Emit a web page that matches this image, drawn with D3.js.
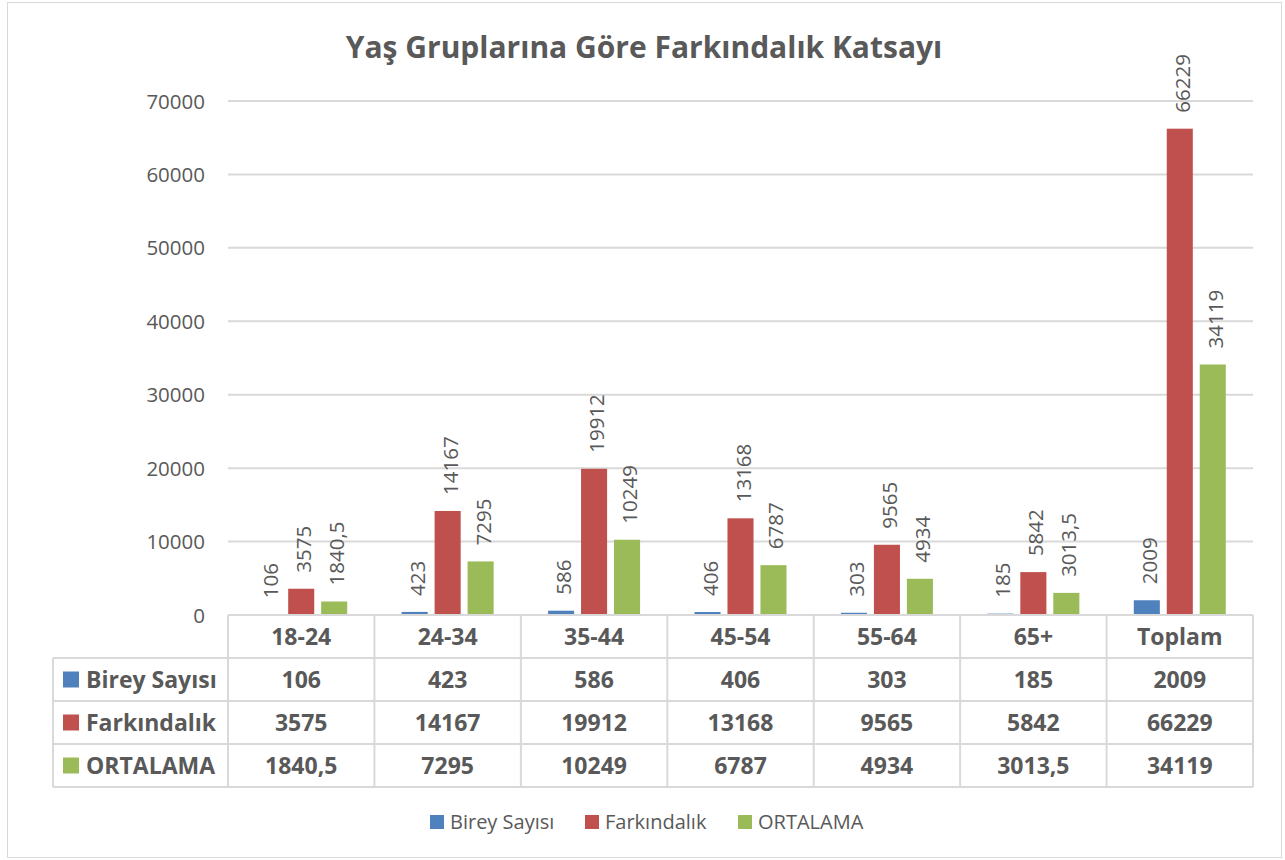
<!DOCTYPE html>
<html lang="tr">
<head>
<meta charset="UTF-8">
<style>
  body { margin: 0; background: #fff; }
  text { font-family: "Open Sans", sans-serif; fill: #595959; }
</style>
</head>
<body>
<div id="chart"></div>
<script src="https://cdn.jsdelivr.net/npm/d3@7/dist/d3.min.js"></script>
<script>
// data
var categories = ["18-24", "24-34", "35-44", "45-54", "55-64", "65+", "Toplam"];
var seriesNames = ["Birey Sayısı", "Farkındalık", "ORTALAMA"];
var bireySayisi = [106, 423, 586, 406, 303, 185, 2009];
var farkindalik = [3575, 14167, 19912, 13168, 9565, 5842, 66229];
var ortalama = [1840.5, 7295, 10249, 6787, 4934, 3013.5, 34119];
var yTicks = [0, 10000, 20000, 30000, 40000, 50000, 60000, 70000];
var colors = ["#4f81bd", "#c0504d", "#9bbb59"];

var seriesValues = [bireySayisi, farkindalik, ortalama];

var width = 1285, height = 860;
var plotLeft = 228, plotRight = 1253, plotTop = 101, plotBottom = 615;
var rowH = 43;
var tableLeft = 53;

function fmt(v) { return String(v).replace(".", ","); }

var svg = d3.select("#chart").append("svg")
    .attr("width", width)
    .attr("height", height);

// chart border
svg.append("rect")
    .attr("x", 7.5).attr("y", 2.5)
    .attr("width", 1274).attr("height", 855)
    .attr("fill", "#fff")
    .attr("stroke", "#d9d9d9");

// title
svg.append("text")
    .attr("x", 644).attr("y", 58)
    .attr("text-anchor", "middle")
    .style("font-size", "30px")
    .style("font-weight", "bold")
    .text("Yaş Gruplarına Göre Farkındalık Katsayı");

var y = d3.scaleLinear().domain([0, 70000]).range([plotBottom, plotTop]);
var x = d3.scaleBand().domain(categories).range([plotLeft, plotRight]);
var bw = x.bandwidth();
var xs = d3.scaleBand().domain(seriesNames)
    .range([(bw - 92) / 2, (bw + 92) / 2])
    .paddingInner(0.21);

// gridlines
svg.selectAll(".grid")
    .data(yTicks.slice(1))
    .enter().append("line")
    .attr("x1", plotLeft).attr("x2", plotRight)
    .attr("y1", function (d) { return y(d); })
    .attr("y2", function (d) { return y(d); })
    .attr("stroke", "#d9d9d9")
    .attr("stroke-width", 2);

// y labels
svg.selectAll(".ylab")
    .data(yTicks)
    .enter().append("text")
    .attr("x", 205)
    .attr("y", function (d) { return y(d) + 7.5; })
    .attr("text-anchor", "end")
    .style("font-size", "20.5px")
    .text(function (d) { return d; });

// bars
var rows = [];
seriesNames.forEach(function (s, si) {
    categories.forEach(function (c, ci) {
        rows.push({ s: s, si: si, c: c, v: seriesValues[si][ci] });
    });
});

svg.selectAll(".bar")
    .data(rows)
    .enter().append("rect")
    .attr("x", function (d) { return x(d.c) + xs(d.s); })
    .attr("y", function (d) { return y(d.v); })
    .attr("width", xs.bandwidth())
    .attr("height", function (d) { return plotBottom - y(d.v); })
    .attr("fill", function (d) { return colors[d.si]; });

// data labels (rotated)
svg.selectAll(".dlab")
    .data(rows)
    .enter().append("text")
    .attr("transform", function (d) {
        var cx = x(d.c) + xs(d.s) + xs.bandwidth() / 2 + 10;
        var cy = y(d.v) - 16;
        return "translate(" + cx + "," + cy + ") rotate(-90)";
    })
    .style("font-size", "20.5px")
    .text(function (d) { return fmt(d.v); });

// data table
var tbl = svg.append("g");
var lineColor = "#d9d9d9";

// horizontal lines
tbl.append("line")
    .attr("x1", plotLeft).attr("x2", plotRight)
    .attr("y1", plotBottom).attr("y2", plotBottom)
    .attr("stroke", lineColor).attr("stroke-width", 2);
[1, 2, 3, 4].forEach(function (i) {
    tbl.append("line")
        .attr("x1", tableLeft).attr("x2", plotRight)
        .attr("y1", plotBottom + i * rowH).attr("y2", plotBottom + i * rowH)
        .attr("stroke", lineColor).attr("stroke-width", 2);
});
// vertical lines
tbl.append("line")
    .attr("x1", tableLeft).attr("x2", tableLeft)
    .attr("y1", plotBottom + rowH).attr("y2", plotBottom + 4 * rowH)
    .attr("stroke", lineColor).attr("stroke-width", 2);
categories.concat(["end"]).forEach(function (c, i) {
    var xx = plotLeft + i * bw;
    tbl.append("line")
        .attr("x1", xx).attr("x2", xx)
        .attr("y1", plotBottom).attr("y2", plotBottom + 4 * rowH)
        .attr("stroke", lineColor).attr("stroke-width", 2);
});

// category header
tbl.selectAll(".cat")
    .data(categories)
    .enter().append("text")
    .attr("x", function (d) { return x(d) + bw / 2; })
    .attr("y", plotBottom + rowH / 2 + 8)
    .attr("text-anchor", "middle")
    .style("font-size", "23px")
    .style("font-weight", "bold")
    .text(function (d) { return d; });

// row headers
seriesNames.forEach(function (s, si) {
    var ry = plotBottom + (si + 1) * rowH;
    tbl.append("rect")
        .attr("x", 63).attr("y", ry + rowH / 2 - 8)
        .attr("width", 16).attr("height", 16)
        .attr("fill", colors[si]);
    tbl.append("text")
        .attr("x", 86).attr("y", ry + rowH / 2 + 8)
        .style("font-size", "23px")
        .style("font-weight", "bold")
        .text(s);
    tbl.selectAll(".cell" + si)
        .data(seriesValues[si])
        .enter().append("text")
        .attr("x", function (d, i) { return x(categories[i]) + bw / 2; })
        .attr("y", ry + rowH / 2 + 8)
        .attr("text-anchor", "middle")
        .style("font-size", "23px")
        .style("font-weight", "bold")
        .text(function (d) { return fmt(d); });
});

// legend
var legendX = [430, 585, 738];
var lg = svg.selectAll(".legend")
    .data(seriesNames)
    .enter().append("g")
    .attr("transform", function (d, i) { return "translate(" + legendX[i] + ",815)"; });
lg.append("rect")
    .attr("width", 14).attr("height", 14)
    .attr("fill", function (d, i) { return colors[i]; });
lg.append("text")
    .attr("x", 20).attr("y", 14)
    .style("font-size", "20px")
    .text(function (d) { return d; });
</script>
</body>
</html>
